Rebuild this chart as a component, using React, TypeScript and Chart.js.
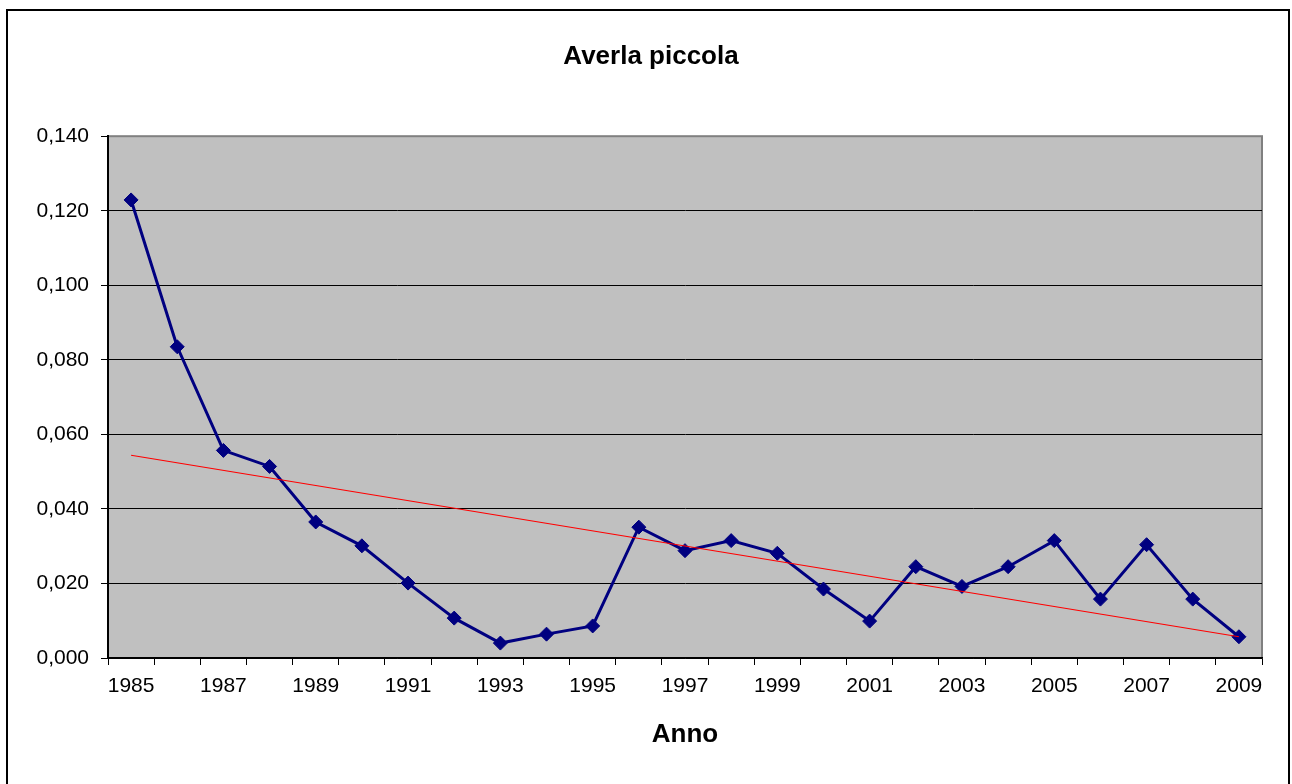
import React, { useEffect, useRef } from "react";
import { Chart, registerables } from "chart.js";

Chart.register(...registerables);

const years: string[] = [
  "1985", "1986", "1987", "1988", "1989", "1990", "1991", "1992", "1993",
  "1994", "1995", "1996", "1997", "1998", "1999", "2000", "2001", "2002",
  "2003", "2004", "2005", "2006", "2007", "2008", "2009",
];

const values: number[] = [
  0.1229, 0.0835, 0.0557, 0.0514, 0.0365, 0.0301, 0.0201, 0.0107, 0.004,
  0.0064, 0.0086, 0.0351, 0.0288, 0.0315, 0.0281, 0.0185, 0.0099, 0.0245,
  0.0192, 0.0245, 0.0315, 0.0158, 0.0304, 0.0158, 0.0057,
];

// linear trend line end points
const trendYears: string[] = ["1985", "2009"];
const trendValues: number[] = [0.0544, 0.0057];

const yTicks: number[] = [0, 0.02, 0.04, 0.06, 0.08, 0.1, 0.12, 0.14];

const chartTitle = "Averla piccola";
const xTitle = "Anno";

const FONT = "'Liberation Sans', Arial, sans-serif";

const framePlugin = {
  id: "frame",
  beforeDraw(chart: any) {
    const { ctx, chartArea } = chart;
    const { left, top, right, bottom } = chartArea;
    ctx.save();
    ctx.fillStyle = "#ffffff";
    ctx.fillRect(0, 0, chart.width, chart.height);
    ctx.strokeStyle = "#000000";
    ctx.lineWidth = 2;
    ctx.strokeRect(7, 10, 1282, 800);
    ctx.fillStyle = "#C0C0C0";
    ctx.fillRect(left, top, right - left, bottom - top);
    ctx.strokeStyle = "#808080";
    ctx.lineWidth = 2;
    ctx.strokeRect(left, top, right - left, bottom - top);
    ctx.restore();
  },
};

export default function App() {
  const ref = useRef<HTMLCanvasElement | null>(null);

  useEffect(() => {
    if (!ref.current) return;
    const chart = new Chart(ref.current, {
      type: "line",
      data: {
        labels: years,
        datasets: [
          {
            label: "Averla piccola",
            data: values,
            borderColor: "#000080",
            backgroundColor: "#000080",
            borderWidth: 3,
            pointStyle: "rectRot",
            pointRadius: 7,
            pointHoverRadius: 7,
            pointBackgroundColor: "#000080",
            pointBorderColor: "#000080",
            pointBorderWidth: 1,
            tension: 0,
            order: 2,
            yAxisID: "y",
          },
          {
            label: "Lineare",
            data: trendYears.map((y, i) => ({ x: y, y: trendValues[i] })) as any,
            borderColor: "#FF0000",
            backgroundColor: "#FF0000",
            borderWidth: 1.2,
            pointRadius: 0,
            tension: 0,
            order: 1,
            yAxisID: "y",
          },
        ],
      },
      options: {
        responsive: false,
        animation: false,
        events: [],
        layout: { padding: { left: 10, right: 0, top: 0, bottom: 0 } },
        plugins: {
          legend: { display: false },
          tooltip: { enabled: false },
          title: {
            display: true,
            text: chartTitle,
            color: "#000000",
            font: { family: FONT, size: 26, weight: "bold" },
            padding: { top: 41, bottom: 64 },
          },
        },
        scales: {
          x: {
            type: "category",
            offset: true,
            grid: {
              offset: true,
              drawOnChartArea: false,
              drawTicks: true,
              tickLength: 7,
              tickColor: "#000000",
              color: "#000000",
            },
            border: { display: true, color: "#000000", width: 1.5 },
            ticks: {
              autoSkip: false,
              maxRotation: 0,
              color: "#000000",
              padding: 9,
              font: { family: FONT, size: 21 },
              callback: (_v: any, i: number) => (i % 2 === 0 ? years[i] : ""),
            },
            title: {
              display: true,
              text: xTitle,
              color: "#000000",
              font: { family: FONT, size: 26, weight: "bold" },
              padding: { top: 0, bottom: 34 },
            },
            afterFit: (scale: any) => {
              scale.height = 126;
            },
          },
          y: {
            position: "left",
            min: 0,
            max: 0.14,
            afterBuildTicks: (scale: any) => {
              scale.ticks = yTicks.map((v) => ({ value: v }));
            },
            grid: {
              color: (c: any) => (c.tick && c.tick.value >= 0.14 ? "rgba(0,0,0,0)" : "#000000"),
              tickColor: "#000000",
              lineWidth: 1,
              drawTicks: true,
              tickLength: 7,
            },
            border: { display: true, color: "#000000", width: 2 },
            ticks: {
              color: "#000000",
              padding: 12,
              font: { family: FONT, size: 21 },
              callback: (v: any) => Number(v).toFixed(3).replace(".", ","),
            },
            afterFit: (scale: any) => {
              scale.width = 98;
            },
          },
          yRight: {
            position: "right",
            display: true,
            min: 0,
            max: 0.14,
            grid: { display: false, drawTicks: false },
            border: { display: false },
            ticks: { display: false },
            afterFit: (scale: any) => {
              scale.width = 30;
            },
          },
        },
      },
      plugins: [framePlugin],
    });
    return () => chart.destroy();
  }, []);

  return (
    <div style={{ position: "absolute", left: 0, top: 0, width: 1292, height: 784 }}>
      <canvas ref={ref} width={1292} height={784} style={{ display: "block" }} />
    </div>
  );
}
